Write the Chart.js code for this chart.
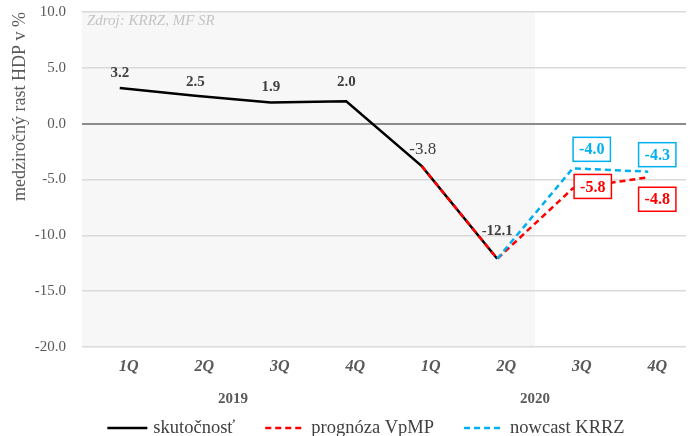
<!DOCTYPE html>
<html>
<head>
<meta charset="utf-8">
<script src="https://cdn.jsdelivr.net/npm/chart.js@4"></script>
<style>
  html, body { margin: 0; padding: 0; background: #fff; }
  #wrap { width: 694px; height: 436px; }
</style>
</head>
<body>
<div id="wrap"><canvas id="c" width="694" height="436"></canvas></div>
<script>
const categories = ['1Q', '2Q', '3Q', '4Q', '1Q', '2Q', '3Q', '4Q'];
const yearLabels = ['2019', '2020'];
const yearGroups = [[0, 3], [4, 7]];
const actual = [3.2, 2.5, 1.9, 2.0, -3.8, -12.1, null, null];
const forecast = [null, null, null, null, -3.8, -12.1, -5.8, -4.8];
const nowcast = [null, null, null, null, null, -12.1, -4.0, -4.3];
const shadedUntil = 5; // last category index with grey background

const SERIF = "'Liberation Serif', 'DejaVu Serif', serif";
const GREY = '#595959';

// label placement per dataset: index -> [dx, dy, kind]
const labelStyles = [
    { 0: [0, -15, 'b'], 1: [0, -14, 'b'], 2: [0, -15, 'b'], 3: [0, -19, 'b'], 4: [1, -17, 'n'], 5: [0, -28, 'b'] },
    { 6: [20, -2, 'box'], 7: [9, 22, 'box'] },
    { 6: [19, -19, 'box'], 7: [9, -17, 'box'] },
];

const shadePlugin = {
    id: 'shade',
    beforeDraw(chart) {
        const { ctx, chartArea } = chart;
        const x = chart.scales.x;
        const edge = (x.getPixelForValue(shadedUntil) + x.getPixelForValue(shadedUntil + 1)) / 2;
        ctx.save();
        ctx.fillStyle = '#f7f7f7';
        ctx.fillRect(chartArea.left, chartArea.top, edge - chartArea.left, chartArea.bottom - chartArea.top);
        ctx.font = 'italic 15px ' + SERIF;
        ctx.fillStyle = '#c4c4c4';
        ctx.textBaseline = 'middle';
        ctx.fillText('Zdroj: KRRZ, MF SR', chartArea.left + 5, 21);
        ctx.restore();
    },
};

const labelsPlugin = {
    id: 'pointLabels',
    afterDatasetsDraw(chart) {
        const { ctx } = chart;
        ctx.save();
        ctx.textAlign = 'center';
        ctx.textBaseline = 'middle';
        chart.data.datasets.forEach((ds, di) => {
            const meta = chart.getDatasetMeta(di);
            const style = labelStyles[di];
            Object.keys(style).forEach((k) => {
                const i = Number(k);
                const [dx, dy, kind] = style[i];
                const pt = meta.data[i];
                const txt = ds.data[i].toFixed(1);
                const x = pt.x + dx;
                const y = pt.y + dy;
                if (kind === 'box') {
                    ctx.font = 'bold 16px ' + SERIF;
                    const w = ctx.measureText(txt).width + 12;
                    const h = 24;
                    ctx.fillStyle = '#fff';
                    ctx.fillRect(x - w / 2, y - h / 2, w, h);
                    ctx.lineWidth = 1.5;
                    ctx.strokeStyle = ds.borderColor;
                    ctx.strokeRect(x - w / 2, y - h / 2, w, h);
                    ctx.fillStyle = ds.borderColor;
                    ctx.fillText(txt, x, y + 1);
                } else {
                    ctx.font = kind === 'b' ? 'bold 15px ' + SERIF : '17px ' + SERIF;
                    ctx.fillStyle = '#404040';
                    ctx.fillText(txt, x, y);
                }
            });
        });
        ctx.restore();
    },
};

const extrasPlugin = {
    id: 'extras',
    afterDraw(chart) {
        const { ctx } = chart;
        const x = chart.scales.x;
        ctx.save();
        ctx.textAlign = 'center';
        ctx.textBaseline = 'middle';
        ctx.font = 'bold 15px ' + SERIF;
        ctx.fillStyle = GREY;
        yearLabels.forEach((yl, i) => {
            const [a, b] = yearGroups[i];
            const cx = (x.getPixelForValue(a) + x.getPixelForValue(b)) / 2;
            ctx.fillText(yl, cx, 399);
        });

        // legend
        ctx.font = '18.5px ' + SERIF;
        const items = chart.data.datasets.map((ds) => ({
            text: ds.label,
            color: ds.borderColor,
            dash: ds.borderDash || [],
            w: 40 + 6 + ctx.measureText(ds.label).width,
        }));
        const gap = 30;
        const total = items.reduce((s, it) => s + it.w, 0) + gap * (items.length - 1);
        let lx = 366 - total / 2;
        const ly = 428;
        ctx.textAlign = 'left';
        items.forEach((it) => {
            ctx.beginPath();
            ctx.setLineDash(it.dash);
            ctx.lineWidth = 2.5;
            ctx.strokeStyle = it.color;
            ctx.moveTo(lx, ly);
            ctx.lineTo(lx + 40, ly);
            ctx.stroke();
            ctx.setLineDash([]);
            ctx.fillStyle = '#404040';
            ctx.fillText(it.text, lx + 46, ly);
            lx += it.w + gap;
        });
        ctx.restore();
    },
};

new Chart(document.getElementById('c'), {
    type: 'line',
    data: {
        labels: categories,
        datasets: [
            {
                label: 'skutočnosť',
                data: actual,
                borderColor: '#000000',
                borderWidth: 2.5,
                pointRadius: 0,
                order: 3,
            },
            {
                label: 'prognóza VpMP',
                data: forecast,
                borderColor: '#ff0000',
                borderDash: [6, 4],
                borderWidth: 2.5,
                pointRadius: 0,
                order: 2,
            },
            {
                label: 'nowcast KRRZ',
                data: nowcast,
                borderColor: '#00b0f0',
                borderDash: [6, 4],
                borderWidth: 2.5,
                pointRadius: 0,
                order: 1,
            },
        ],
    },
    options: {
        responsive: false,
        animation: false,
        events: [],
        layout: { padding: { left: 0, right: 8, top: 12, bottom: 0 } },
        plugins: {
            legend: { display: false },
            tooltip: { enabled: false },
        },
        scales: {
            x: {
                offset: true,
                grid: { display: false, drawTicks: false },
                border: { display: false },
                ticks: {
                    color: GREY,
                    font: { family: SERIF, size: 16, style: 'italic', weight: 'bold' },
                    padding: 10,
                    labelOffset: 9,
                    maxRotation: 0,
                },
                afterFit(scale) {
                    scale.height = 89;
                    scale.paddingLeft = 0;
                    scale.paddingRight = 0;
                },
            },
            y: {
                min: -20,
                max: 10,
                grid: {
                    drawTicks: false,
                    color: (c) => (c.tick && c.tick.value === 0 ? '#8c8c8c' : '#dadada'),
                    lineWidth: (c) => (c.tick && c.tick.value === 0 ? 2 : 1.5),
                },
                border: { display: false },
                ticks: {
                    stepSize: 5,
                    padding: 16,
                    color: GREY,
                    font: { family: SERIF, size: 15 },
                    callback: (v) => Number(v).toFixed(1),
                },
                title: {
                    display: true,
                    text: 'medziročný rast HDP v %',
                    align: 'end',
                    color: GREY,
                    font: { family: SERIF, size: 18 },
                    padding: { top: 9, bottom: 0 },
                },
                afterFit(scale) {
                    scale.width = 82;
                    scale.paddingTop = 0;
                    scale.paddingBottom = 0;
                },
            },
        },
    },
    plugins: [shadePlugin, labelsPlugin, extrasPlugin],
});
</script>
</body>
</html>
